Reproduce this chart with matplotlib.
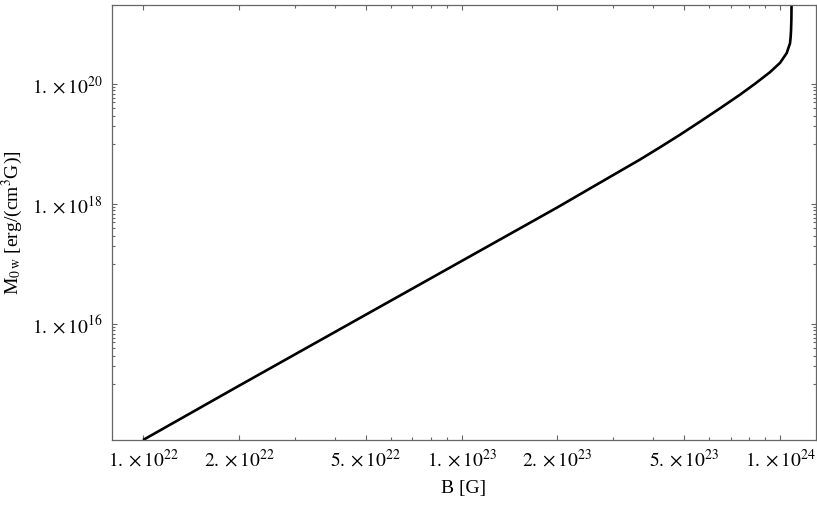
import matplotlib
matplotlib.use("Agg")
import matplotlib.pyplot as plt
import numpy as np
from matplotlib.ticker import FixedLocator, FixedFormatter, NullFormatter

# values
B = [1.0e22, 2.0e22, 5.0e22, 1.0e23, 1.5e23, 2.0e23, 2.722e23,
     3.634e23, 4.2e23, 4.853e23, 5.608e23, 6.481e23, 7.489e23, 8.349e23,
     9.303e23, 1.0e24, 1.049e24, 1.075e24, 1.08e24, 1.083e24, 1.0855e24,
     1.087e24]
M0w = [1.18e14, 9.44e14, 1.44e16, 1.13e17, 3.77e17, 8.87e17, 2.29e18,
       5.56e18, 8.9e18, 1.44e19, 2.38e19, 3.97e19, 6.7e19, 1.02e20,
       1.59e20, 2.27e20, 3.29e20, 4.82e20, 6.2e20, 8.04e20, 1.2e21,
       2.2e21]

x_major = [1e22, 2e22, 5e22, 1e23, 2e23, 5e23, 1e24]
x_labels = [r'$1.\times 10^{22}$', r'$2.\times 10^{22}$', r'$5.\times 10^{22}$',
            r'$1.\times 10^{23}$', r'$2.\times 10^{23}$', r'$5.\times 10^{23}$',
            r'$1.\times 10^{24}$']
y_major = [1e16, 1e18, 1e20]
y_labels = [r'$1.\times 10^{16}$', r'$1.\times 10^{18}$', r'$1.\times 10^{20}$']

x_minor = [k * 10.0**e for e in (22, 23) for k in (3, 4, 6, 7, 8, 9)]
y_minor = [k * 10.0**e for e in (15, 17, 19) for k in range(1, 10)]

plt.rcParams['font.family'] = ['Liberation Serif', 'DejaVu Serif']
plt.rcParams['mathtext.fontset'] = 'stix'

frame_col = '#666666'

fig = plt.figure(figsize=(8.17, 5.05), dpi=100)
ax = fig.add_axes([112 / 817, 65 / 505, 704 / 817, 435 / 505])

ax.plot(B, M0w, color='black', linewidth=1.9, solid_capstyle='butt')

ax.set_xscale('log')
ax.set_yscale('log')
ax.set_xlim(7.99e21, 1.297e24)
ax.set_ylim(1.18e14, 2.09e21)

ax.xaxis.set_major_locator(FixedLocator(x_major))
ax.xaxis.set_major_formatter(FixedFormatter(x_labels))
ax.xaxis.set_minor_locator(FixedLocator(x_minor))
ax.xaxis.set_minor_formatter(NullFormatter())
ax.yaxis.set_major_locator(FixedLocator(y_major))
ax.yaxis.set_major_formatter(FixedFormatter(y_labels))
ax.yaxis.set_minor_locator(FixedLocator(y_minor))
ax.yaxis.set_minor_formatter(NullFormatter())

for s in ax.spines.values():
    s.set_color(frame_col)
    s.set_linewidth(0.9)

ax.tick_params(which='both', direction='in', top=True, right=True,
               color=frame_col, width=0.8, labelsize=14)
ax.tick_params(which='major', length=3.8)
ax.tick_params(which='minor', length=2.3)
ax.tick_params(axis='x', which='major', pad=6)
ax.tick_params(axis='y', which='major', pad=7)

ax.set_xlabel('B [G]', fontsize=14, labelpad=7)
ax.set_ylabel(r'M$_{\rm 0\,w}$ [erg/(cm$^3$G)]', fontsize=14, labelpad=5)

fig.savefig('out.png', dpi=100)
